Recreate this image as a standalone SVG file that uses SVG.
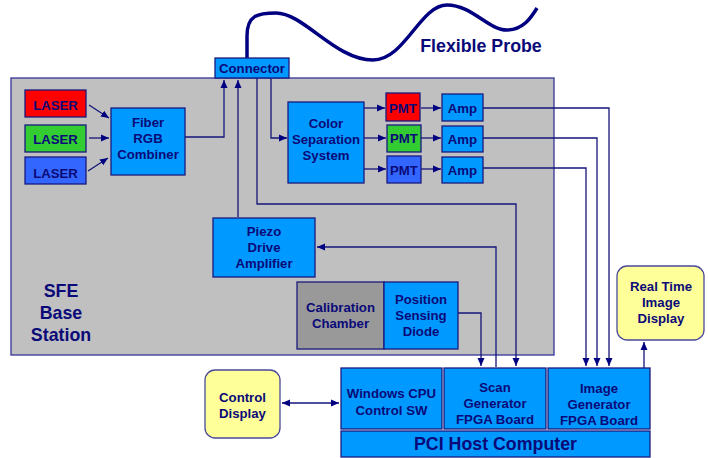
<svg xmlns="http://www.w3.org/2000/svg" width="708" height="458" viewBox="0 0 708 458">
<defs>
<marker id="ah" markerUnits="userSpaceOnUse" markerWidth="9" markerHeight="8" refX="8" refY="4" orient="auto-start-reverse">
<path d="M0,0.5 L8,4 L0,7.5 Z" fill="#000080"/>
</marker>
</defs>
<style>
text{font-family:"Liberation Sans",Arial,sans-serif;font-weight:bold;fill:#0a0a78;text-anchor:middle}
.t{font-size:13.2px}
.big{font-size:17.8px}
.box{fill:#0099ff;stroke:#1a1a80;stroke-width:1.3}
.yel{fill:#ffff99;stroke:#4a4a9a;stroke-width:1.3}
.ln{fill:none;stroke:#14147a;stroke-width:1.3}
.ar{fill:none;stroke:#14147a;stroke-width:1.3;marker-end:url(#ah)}
.dar{fill:none;stroke:#14147a;stroke-width:1.3;marker-end:url(#ah);marker-start:url(#ah)}
</style>
<rect width="708" height="458" fill="#ffffff"/>

<g id="base-station">
<rect x="11" y="78" width="543" height="277" fill="#c0c0c0" stroke="#333399" stroke-width="1.3"/>
<text class="big"><tspan x="61" y="297">SFE</tspan><tspan x="61" y="319">Base</tspan><tspan x="61" y="341">Station</tspan></text>
</g>

<g id="probe">
<path d="M247,58 L247,36 C247,15 258,13 276,13 C304,13 335,60 373,60 C405,60 420,5 447,5 C472,5 488,30 507,30 C524,30 532,16 537,8" fill="none" stroke="#000080" stroke-width="3.5"/>
<text class="big" x="481" y="52">Flexible Probe</text>
</g>

<g id="connectors">
<line class="ar" x1="89" y1="105" x2="109" y2="118"/>
<line class="ar" x1="89" y1="138" x2="109" y2="138"/>
<line class="ar" x1="88" y1="171" x2="108" y2="158"/>
<polyline class="ar" points="185,137 224,137 224,80"/>
<polyline class="ar" points="238,217 238,80"/>
<polyline class="ar" points="257,78 257,204 516,204 516,366"/>
<polyline class="ar" points="271,78 271,138 287,138"/>
<line class="ar" x1="364" y1="108" x2="385" y2="108"/>
<line class="ar" x1="364" y1="138" x2="386" y2="138"/>
<line class="ar" x1="364" y1="169" x2="386" y2="169"/>
<line class="ar" x1="421" y1="108" x2="441" y2="108"/>
<line class="ar" x1="421" y1="138" x2="441" y2="138"/>
<line class="ar" x1="421" y1="169" x2="441" y2="169"/>
<polyline class="ar" points="483,108 609,108 609,366"/>
<polyline class="ar" points="483,138 597,138 597,366"/>
<polyline class="ar" points="483,168 586,168 586,366"/>
<polyline class="ar" points="496,367 496,247 317,247"/>
<polyline class="ar" points="458,313 481,313 481,366"/>
<line class="dar" x1="282" y1="403" x2="339" y2="403"/>
<line class="ar" x1="644" y1="368" x2="644" y2="342"/>
</g>

<g id="connector">
<rect class="box" x="215" y="58" width="74" height="20"/>
<text class="t" x="252" y="73">Connector</text>
</g>

<g id="laser-red">
<rect x="25" y="90" width="61" height="27" fill="#ff0000" stroke="#1a1a80" stroke-width="1.3"/>
<text class="t" x="55.5" y="110">LASER</text>
</g>
<g id="laser-green">
<rect x="25" y="125" width="61" height="27" fill="#33cc33" stroke="#1a1a80" stroke-width="1.3"/>
<text class="t" x="55.5" y="144">LASER</text>
</g>
<g id="laser-blue">
<rect x="25" y="157" width="61" height="27" fill="#3366ff" stroke="#1a1a80" stroke-width="1.3"/>
<text class="t" x="55.5" y="178">LASER</text>
</g>

<g id="fiber-rgb-combiner">
<rect class="box" x="111" y="108" width="74" height="67"/>
<text class="t"><tspan x="148" y="127">Fiber</tspan><tspan x="148" y="143">RGB</tspan><tspan x="148" y="159">Combiner</tspan></text>
</g>

<g id="color-separation">
<rect class="box" x="288" y="102" width="76" height="81"/>
<text class="t"><tspan x="326" y="128">Color</tspan><tspan x="326" y="144">Separation</tspan><tspan x="326" y="160">System</tspan></text>
</g>

<g id="pmt-red">
<rect x="386" y="93" width="34" height="28" fill="#ff0000" stroke="#1a1a80" stroke-width="1.3"/>
<text class="t" x="403" y="113">PMT</text>
</g>
<g id="pmt-green">
<rect x="387" y="125" width="34" height="27" fill="#33cc33" stroke="#1a1a80" stroke-width="1.3"/>
<text class="t" x="404" y="143">PMT</text>
</g>
<g id="pmt-blue">
<rect x="387" y="156" width="34" height="27" fill="#3366ff" stroke="#1a1a80" stroke-width="1.3"/>
<text class="t" x="404" y="175">PMT</text>
</g>

<g id="amp-1">
<rect class="box" x="442" y="94" width="41" height="27"/>
<text class="t" x="462.5" y="113">Amp</text>
</g>
<g id="amp-2">
<rect class="box" x="442" y="126" width="41" height="26"/>
<text class="t" x="462.5" y="144">Amp</text>
</g>
<g id="amp-3">
<rect class="box" x="442" y="157" width="41" height="26"/>
<text class="t" x="462.5" y="175">Amp</text>
</g>

<g id="piezo-drive-amplifier">
<rect class="box" x="213" y="218" width="102" height="59"/>
<text class="t"><tspan x="264" y="236">Piezo</tspan><tspan x="264" y="252">Drive</tspan><tspan x="264" y="268">Amplifier</tspan></text>
</g>

<g id="calibration-chamber">
<rect x="297" y="282" width="87" height="67" fill="#999999" stroke="#1a1a80" stroke-width="1.3"/>
<text class="t"><tspan x="340.5" y="312">Calibration</tspan><tspan x="340.5" y="328">Chamber</tspan></text>
</g>

<g id="position-sensing-diode">
<rect class="box" x="384" y="282" width="74" height="67"/>
<text class="t"><tspan x="421" y="304">Position</tspan><tspan x="421" y="320">Sensing</tspan><tspan x="421" y="336">Diode</tspan></text>
</g>

<g id="control-display">
<rect class="yel" x="205" y="370" width="75" height="68" rx="10"/>
<text class="t"><tspan x="242.5" y="402">Control</tspan><tspan x="242.5" y="418">Display</tspan></text>
</g>

<g id="real-time-image-display">
<rect class="yel" x="617" y="266" width="87" height="74" rx="10"/>
<text class="t"><tspan x="661" y="291">Real Time</tspan><tspan x="661" y="307">Image</tspan><tspan x="661" y="323">Display</tspan></text>
</g>

<g id="windows-cpu">
<rect class="box" x="341" y="368" width="101" height="61"/>
<text class="t"><tspan x="391.5" y="398">Windows CPU</tspan><tspan x="391.5" y="415">Control SW</tspan></text>
</g>

<g id="scan-generator">
<rect class="box" x="444" y="368" width="102" height="61"/>
<text class="t"><tspan x="495" y="392">Scan</tspan><tspan x="495" y="408">Generator</tspan><tspan x="495" y="424">FPGA Board</tspan></text>
</g>

<g id="image-generator">
<rect class="box" x="548" y="368" width="102" height="61"/>
<text class="t"><tspan x="599" y="393">Image</tspan><tspan x="599" y="409">Generator</tspan><tspan x="599" y="425">FPGA Board</tspan></text>
</g>

<g id="pci-host-computer">
<rect class="box" x="341" y="431" width="309" height="26"/>
<text class="big" x="495.5" y="450">PCI Host Computer</text>
</g>
</svg>
